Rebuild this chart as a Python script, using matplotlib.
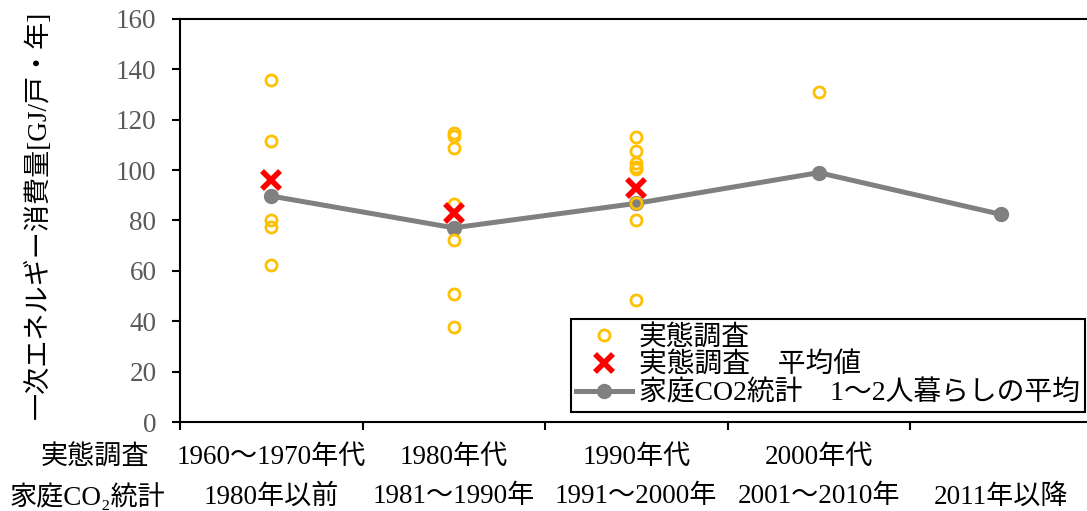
import matplotlib
matplotlib.use("Agg")
import matplotlib.pyplot as plt
from matplotlib.lines import Line2D

plt.rcParams['font.family'] = ['Liberation Serif', 'Noto Sans CJK JP', 'DejaVu Sans']

# bottom labels (two rows)
survey_labels = ['1960〜1970年代', '1980年代', '1990年代', '2000年代', '']
stats_labels = ['1980年以前', '1981〜1990年', '1991〜2000年', '2001〜2010年', '2011年以降']

# survey points per period (GJ/household/year)
survey_points = [
    [135.8, 111.6, 80.2, 77.5, 62.3],
    [114.6, 113.5, 108.7, 86.5, 72.3, 51.0, 37.8],
    [113.3, 107.6, 102.7, 101.4, 100.3, 86.8, 80.2, 48.4],
    [130.9],
    [],
]
survey_mean = [96.0, 82.8, 92.8]
stats_mean = [89.7, 77.1, 86.8, 99.0, 82.4]

fig = plt.figure(figsize=(10.87, 5.11), dpi=100)
ax = fig.add_axes([180 / 1087, 89 / 511, 912.5 / 1087, 403 / 511])

cats = range(len(stats_labels))
ax.plot(cats, stats_mean, color='#808080', lw=3.6, marker='o', ms=10, zorder=2)
for i, pts in enumerate(survey_points):
    ax.plot([i] * len(pts), pts, ls='none', marker='o', ms=8, mfc='none',
            mec='#FFC000', mew=2, zorder=3)
ax.plot(range(len(survey_mean)), survey_mean, ls='none', marker='x', ms=13,
        mec='#FF0000', mew=4, zorder=4)

ax.set_xlim(-0.5, 4.5)
ax.set_ylim(0, 160)
ax.set_yticks(range(0, 161, 20))
ax.tick_params(axis='y', labelsize=19.5, labelcolor='#595959', length=6, width=1.5, pad=11)
ax.set_xticks([i - 0.5 for i in range(6)])
ax.set_xticklabels([])
ax.tick_params(axis='x', length=6, width=1.5)
ax.spines['right'].set_visible(False)
for s in ['left', 'bottom', 'top']:
    ax.spines[s].set_linewidth(1.5)

ax.set_ylabel('一次エネルギー消費量[GJ/戸・年]', fontsize=19.5)
ax.yaxis.set_label_coords(-0.141, 0.515)

tr = ax.get_xaxis_transform()
for i, lab in enumerate(survey_labels):
    ax.text(i, -0.089, lab, transform=tr, ha='center', va='center', fontsize=19.5)
for i, lab in enumerate(stats_labels):
    ax.text(i, -0.186, lab, transform=tr, ha='center', va='center', fontsize=19.5)
ax.text(-0.965, -0.089, '実態調査', transform=tr, ha='center', va='center', fontsize=19.5)
ax.text(-1.005, -0.186, '家庭CO₂統計', transform=tr, ha='center', va='center', fontsize=19.5)

handles = [
    Line2D([], [], ls='none', marker='o', ms=8, mfc='none', mec='#FFC000', mew=2),
    Line2D([], [], ls='none', marker='x', ms=13, mec='#FF0000', mew=4),
    Line2D([], [], color='#808080', lw=3.6, marker='o', ms=10),
]
labels = ['実態調査', '実態調査　平均値', '家庭CO2統計　1〜2人暮らしの平均']
leg = ax.legend(handles, labels, loc='lower right', bbox_to_anchor=(0.992, 0.025),
                fontsize=20, fancybox=False, framealpha=1, edgecolor='black',
                labelspacing=0.06, borderpad=0.2, handletextpad=0.25, borderaxespad=0,
                handlelength=2.0)
leg.get_frame().set_linewidth(1.5)

fig.savefig('out.png', dpi=100)
